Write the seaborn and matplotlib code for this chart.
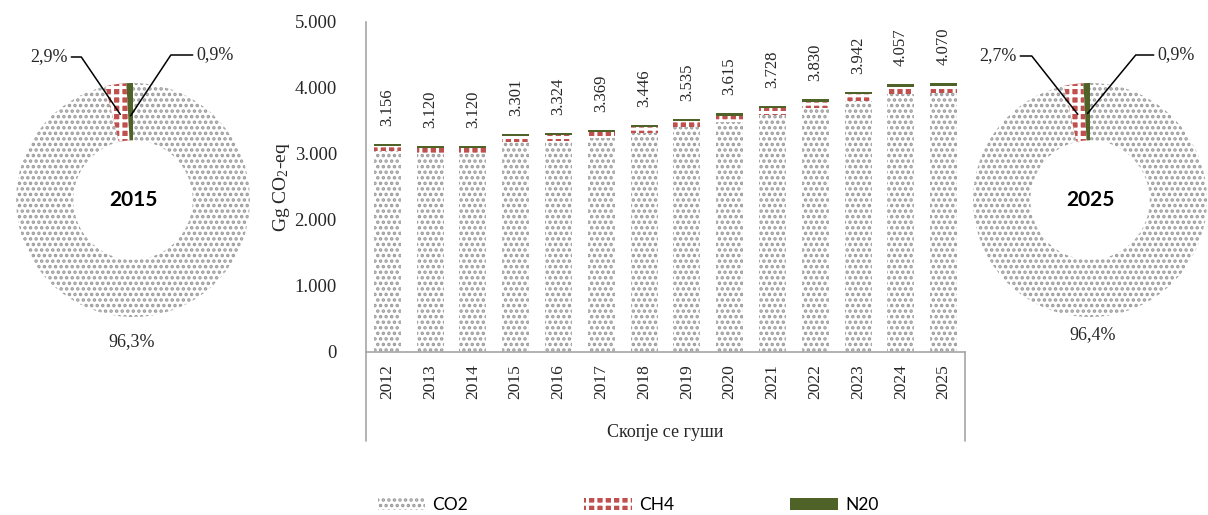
import numpy as np
import pandas as pd
import matplotlib
matplotlib.use("Agg")
import matplotlib.pyplot as plt
from matplotlib.patches import Patch
import seaborn as sns

# ─── data ─────────────────────────────────────────────────────────────────────
YEARS = [2012, 2013, 2014, 2015, 2016, 2017, 2018,
         2019, 2020, 2021, 2022, 2023, 2024, 2025]
CO2 = [3038, 3003, 3003, 3179, 3200, 3244, 3318,
       3404, 3482, 3591, 3690, 3799, 3910, 3923]
CH4 = [90, 89, 89, 93, 94, 95, 97, 99, 100, 103, 105, 107, 110, 110]
N2O = [28, 28, 28, 29, 30, 30, 31, 32, 33, 34, 35, 36, 37, 37]

GASES = ["CO2", "CH4", "N20"]
SHARE_2015 = [96.3, 2.9, 0.9]
SHARE_2025 = [96.4, 2.7, 0.9]

Y_TICKS = [0, 1000, 2000, 3000, 4000, 5000]
X_GROUP = "Скопје се гуши"
Y_LABEL = "Gg CO$_\\mathrm{2}$-eq"

# ─── styles ───────────────────────────────────────────────────────────────────
TEXT = "#262626"
AXIS = "#a6a6a6"
STYLES = {
    "CO2": dict(face="white", hatch_col="#9c9c9c", hatch="...", hlw=1.7),
    "CH4": dict(face="#c0504d", hatch_col="white", hatch="++", hlw=2.2),
    "N20": dict(face="#4f6228", hatch_col="#4f6228", hatch=None, hlw=1.0),
}

sns.set_theme(style="white")
plt.rcParams["font.family"] = ["Liberation Serif", "DejaVu Serif"]
plt.rcParams["mathtext.fontset"] = "custom"
plt.rcParams["mathtext.rm"] = "Liberation Serif"
plt.rcParams["mathtext.it"] = "Liberation Serif:italic"


def dotfmt(v):
    return f"{int(v):,}".replace(",", ".")


def style_patch(p, gas):
    st = STYLES[gas]
    p.set_facecolor(st["face"])
    p.set_edgecolor(st["hatch_col"])
    p.set_linewidth(0)
    if st["hatch"]:
        p.set_hatch(st["hatch"])
        if hasattr(p, "set_hatch_linewidth"):
            p.set_hatch_linewidth(st["hlw"])


fig = plt.figure(figsize=(12.08, 5.15), dpi=100)
W, H = 1208, 515

# ─── stacked bars ─────────────────────────────────────────────────────────────
ax = fig.add_axes([366 / W, 1 - 352 / H, 599 / W, 330 / H])

df = pd.DataFrame({"year": [str(y) for y in YEARS], "co2": CO2, "ch4": CH4, "n2o": N2O})
df["co2_ch4"] = df["co2"] + df["ch4"]
df["total"] = df["co2_ch4"] + df["n2o"]

# draw cumulative layers back to front
for col, gas in [("total", "N20"), ("co2_ch4", "CH4"), ("co2", "CO2")]:
    n0 = len(ax.patches)
    sns.barplot(data=df, x="year", y=col, ax=ax, width=0.63, color="white",
                saturation=1, errorbar=None)
    for p in ax.patches[n0:]:
        style_patch(p, gas)

for i, t in enumerate(df["total"]):
    ax.annotate(dotfmt(t), xy=(i, t), xytext=(0, 13), textcoords="offset points",
                rotation=90, ha="center", va="bottom", fontsize=12, color=TEXT)

ax.set_ylim(0, 5000)
ax.set_xlim(-0.5, len(YEARS) - 0.5)
ax.set_yticks(Y_TICKS)
ax.set_yticklabels([dotfmt(v) for v in Y_TICKS])
ax.tick_params(axis="y", length=0, pad=21, labelsize=13.5, labelcolor=TEXT)
ax.tick_params(axis="x", length=0, pad=9, labelsize=12.5, labelcolor=TEXT,
               labelrotation=90)
ax.set_xlabel("")
ax.set_ylabel(Y_LABEL, fontsize=14, color=TEXT, labelpad=2)
for s in ["top", "right"]:
    ax.spines[s].set_visible(False)
for s in ["left", "bottom"]:
    ax.spines[s].set_color(AXIS)
    ax.spines[s].set_linewidth(1.2)

# multi-level category bracket
for xx in (0, 1):
    ax.plot([xx, xx], [0, -0.27], transform=ax.transAxes, clip_on=False,
            color=AXIS, lw=1.2)
ax.text(0.5, -0.245, X_GROUP, transform=ax.transAxes, ha="center", va="center",
        fontsize=13, color=TEXT)


# ─── donuts ───────────────────────────────────────────────────────────────────
R_PX = 117


def donut(cx, cy, shares, year, labels):
    half = 130
    dax = fig.add_axes([(cx - half) / W, (H - cy - half) / H, 2 * half / W, 2 * half / H])
    wedges, _ = dax.pie(shares, startangle=90, counterclock=False, radius=1,
                        wedgeprops=dict(width=0.49, linewidth=0))
    for w, gas in zip(wedges, GASES):
        style_patch(w, gas)
    lim = half / R_PX
    dax.set_xlim(-lim, lim)
    dax.set_ylim(-lim, lim)
    dax.set_aspect("equal")
    dax.axis("off")
    dax.text(0, 0, str(year), ha="center", va="center", fontsize=15,
             fontweight="bold", family=["Lato", "DejaVu Sans"], color="black")

    for w, share, (tx, ty, ha, ang, r) in zip(wedges, shares, labels):
        txt = f"{share:.1f}%".replace(".", ",")
        x, y = (tx - cx) / R_PX, (cy - ty) / R_PX
        if ang is None:
            dax.text(x, y, txt, ha=ha, va="center", fontsize=13, color=TEXT)
            continue
        mid = np.deg2rad((w.theta1 + w.theta2) / 2)
        ax_pt = (r * np.cos(mid), r * np.sin(mid))
        dax.annotate(txt, xy=ax_pt, xytext=(x, y), ha=ha, va="center",
                     fontsize=13, color=TEXT, annotation_clip=False,
                     arrowprops=dict(arrowstyle="-", color="black", lw=1.1,
                                     shrinkA=0, shrinkB=0,
                                     connectionstyle=f"angle,angleA=0,angleB={ang},rad=0"))


donut(133, 200, SHARE_2015, 2015,
      [(132, 342, "center", None, 0), (68, 57, "right", -55.8, 0.74),
       (196, 55, "left", -123.5, 0.72)])
donut(1090, 200, SHARE_2025, 2025,
      [(1093, 335, "center", None, 0), (1017, 56, "right", -51.7, 0.74),
       (1157, 55, "left", -129.5, 0.74)])

# ─── legend ───────────────────────────────────────────────────────────────────
handles = []
for gas in GASES:
    st = STYLES[gas]
    handles.append(Patch(facecolor=st["face"], edgecolor=st["hatch_col"],
                         hatch=st["hatch"], linewidth=0, label=gas))
leg = fig.legend(handles=handles, loc="center", bbox_to_anchor=(628 / W, 1 - 505 / H),
                 ncol=3, frameon=False, handlelength=2.75, handleheight=0.7,
                 handletextpad=0.4, columnspacing=6.7,
                 prop={"family": ["Lato", "DejaVu Sans"], "size": 12.5})
for h, gas in zip(leg.legend_handles, GASES):
    if STYLES[gas]["hatch"] and hasattr(h, "set_hatch_linewidth"):
        h.set_hatch_linewidth(STYLES[gas]["hlw"])
for t in leg.get_texts():
    t.set_color("black")

fig.savefig("out.png", dpi=100)
